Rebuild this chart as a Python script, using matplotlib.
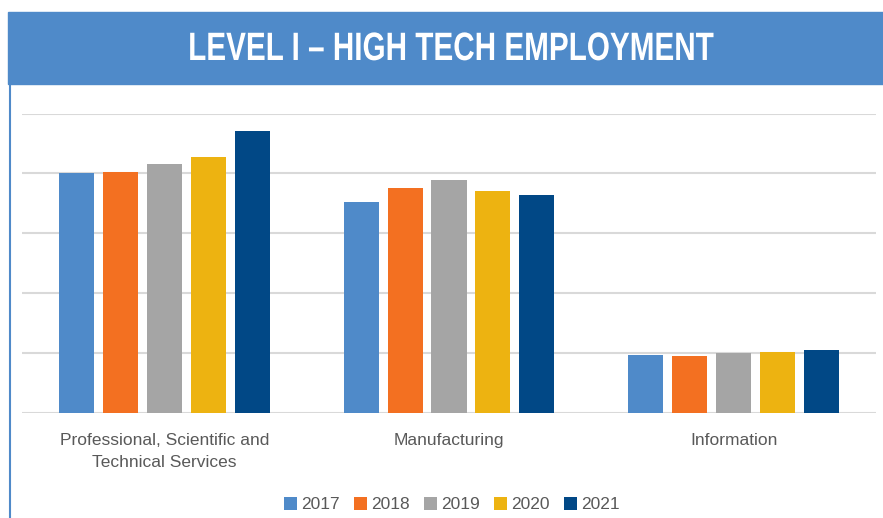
import numpy as np
import matplotlib.pyplot as plt
from matplotlib.patches import Rectangle
from matplotlib.lines import Line2D
from matplotlib.patheffects import AbstractPathEffect
from matplotlib.transforms import Affine2D

categories = ["Professional, Scientific and\nTechnical Services", "Manufacturing", "Information"]
years = ["2017", "2018", "2019", "2020", "2021"]
values = {
    "2017": [4000, 3520, 960],
    "2018": [4030, 3760, 950],
    "2019": [4155, 3890, 990],
    "2020": [4270, 3700, 1010],
    "2021": [4700, 3630, 1050],
}
colors = ["#4f8ac9", "#f37021", "#a5a5a5", "#edb311", "#014886"]


class Squeeze(AbstractPathEffect):
    # narrow the glyphs horizontally around x = cx (display pixels)
    def __init__(self, sx, cx):
        super().__init__()
        self.sx = sx
        self.cx = cx

    def draw_path(self, renderer, gc, tpath, affine, rgbFace=None):
        t = affine + Affine2D().translate(-self.cx, 0).scale(self.sx, 1).translate(self.cx, 0)
        renderer.draw_path(gc, tpath, t, rgbFace)


W, H = 883, 518
fig = plt.figure(figsize=(W / 100, H / 100), dpi=100)
ax = fig.add_axes([22 / W, 1 - 412.5 / H, 854 / W, 299 / H])

x = np.arange(len(categories))
pitch = 0.154
width = 0.123
for i, yr in enumerate(years):
    ax.bar(x + (i - 2) * pitch, values[yr], width, color=colors[i],
           label=yr, zorder=3)

ax.set_xlim(-0.5, 2.5)
ax.set_ylim(0, 5000)
ax.set_yticks(np.arange(0, 5001, 1000))
ax.yaxis.grid(True, color="#d9d9d9", linewidth=1.5, zorder=0)
ax.tick_params(axis="y", left=False, labelleft=False)
ax.tick_params(axis="x", length=0, pad=14.5)
ax.set_xticks(x)
ax.set_xticklabels(categories, fontfamily="Liberation Sans",
                   fontsize=12.5, color="#595959", linespacing=1.65)
for s in ax.spines.values():
    s.set_visible(False)

# title banner and left rule
fig.patches.append(Rectangle((8 / W, 1 - 84 / H), 1, 72 / H,
                             transform=fig.transFigure, color="#4f8ac9"))
fig.lines.append(Line2D([10 / W, 10 / W], [0, 1 - 84 / H],
                        transform=fig.transFigure, color="#4f8ac9", lw=1.5))
fig.text(451 / W, 1 - 49 / H, "LEVEL I – HIGH TECH EMPLOYMENT",
         ha="center", va="center", color="white", fontsize=28.5,
         fontweight="bold", fontfamily="Liberation Sans",
         path_effects=[Squeeze(0.75, 451)])

fig.legend(loc="center", bbox_to_anchor=(452 / W, 1 - 504.5 / H), ncol=5,
           frameon=False, handlelength=0.75, handleheight=0.75,
           handletextpad=0.25, columnspacing=0.8,
           prop={"family": "Liberation Sans", "size": 12.5},
           labelcolor="#595959")

fig.savefig("out.png", dpi=100)
